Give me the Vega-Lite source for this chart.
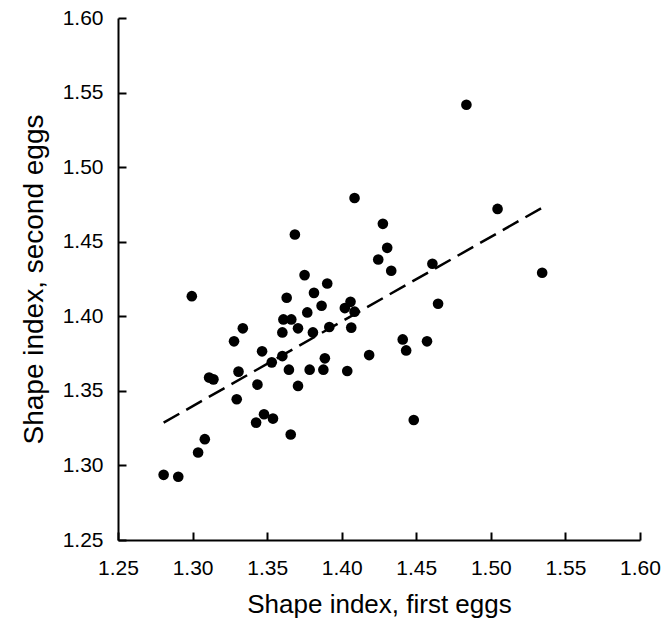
{
  "$schema": "https://vega.github.io/schema/vega-lite/v6.json",
  "autosize": "none",
  "width": 522,
  "height": 522,
  "padding": {"left": 118, "top": 18, "right": 28, "bottom": 88},
  "background": "white",
  "config": {
    "view": {"stroke": null},
    "font": "Liberation Sans",
    "axis": {
      "grid": false,
      "domainColor": "black",
      "domainWidth": 2,
      "tickColor": "black",
      "tickWidth": 2,
      "tickSize": -8,
      "labelColor": "black",
      "labelFont": "Liberation Sans",
      "labelFontSize": 21,
      "labelFlush": false,
      "labelOverlap": false,
      "titleFont": "Liberation Sans",
      "titleFontWeight": "normal",
      "titleColor": "black"
    }
  },
  "layer": [
    {
      "data": {
        "values": [
          {"first": 1.2806, "second": 1.2937},
          {"first": 1.2904, "second": 1.2924},
          {"first": 1.2995, "second": 1.4135},
          {"first": 1.3037, "second": 1.3087},
          {"first": 1.3082, "second": 1.3176},
          {"first": 1.3111, "second": 1.3589},
          {"first": 1.3140, "second": 1.3577},
          {"first": 1.3278, "second": 1.3832},
          {"first": 1.3296, "second": 1.3444},
          {"first": 1.3308, "second": 1.3629},
          {"first": 1.3337, "second": 1.3919},
          {"first": 1.3426, "second": 1.3287},
          {"first": 1.3435, "second": 1.3542},
          {"first": 1.3466, "second": 1.3765},
          {"first": 1.3479, "second": 1.3343},
          {"first": 1.3539, "second": 1.3314},
          {"first": 1.3531, "second": 1.3691},
          {"first": 1.3602, "second": 1.3733},
          {"first": 1.3602, "second": 1.3892},
          {"first": 1.3609, "second": 1.3979},
          {"first": 1.3631, "second": 1.4124},
          {"first": 1.3646, "second": 1.3642},
          {"first": 1.3662, "second": 1.3979},
          {"first": 1.3658, "second": 1.3207},
          {"first": 1.3686, "second": 1.4548},
          {"first": 1.3707, "second": 1.3919},
          {"first": 1.3707, "second": 1.3533},
          {"first": 1.3751, "second": 1.4276},
          {"first": 1.3769, "second": 1.4026},
          {"first": 1.3785, "second": 1.3642},
          {"first": 1.3807, "second": 1.3892},
          {"first": 1.3814, "second": 1.4157},
          {"first": 1.3865, "second": 1.4071},
          {"first": 1.3877, "second": 1.3642},
          {"first": 1.3887, "second": 1.3718},
          {"first": 1.3903, "second": 1.4220},
          {"first": 1.3917, "second": 1.3928},
          {"first": 1.4021, "second": 1.4055},
          {"first": 1.4037, "second": 1.3633},
          {"first": 1.4059, "second": 1.4097},
          {"first": 1.4064, "second": 1.3924},
          {"first": 1.4086, "second": 1.4031},
          {"first": 1.4086, "second": 1.4793},
          {"first": 1.4184, "second": 1.3740},
          {"first": 1.4245, "second": 1.4381},
          {"first": 1.4276, "second": 1.4620},
          {"first": 1.4305, "second": 1.4459},
          {"first": 1.4332, "second": 1.4305},
          {"first": 1.4409, "second": 1.3845},
          {"first": 1.4432, "second": 1.3771},
          {"first": 1.4483, "second": 1.3305},
          {"first": 1.4572, "second": 1.3832},
          {"first": 1.4608, "second": 1.4352},
          {"first": 1.4646, "second": 1.4084},
          {"first": 1.4836, "second": 1.5418},
          {"first": 1.5045, "second": 1.4720},
          {"first": 1.5344, "second": 1.4292}
        ]
      },
      "mark": {"type": "circle", "size": 113, "color": "black", "opacity": 1},
      "encoding": {
        "x": {
          "field": "first",
          "type": "quantitative",
          "scale": {"domain": [1.25, 1.6], "nice": false, "zero": false},
          "axis": {
            "title": "Shape index, first eggs",
            "titleFontSize": 26,
            "values": [1.25, 1.3, 1.35, 1.4, 1.45, 1.5, 1.55, 1.6],
            "format": ".2f",
            "labelPadding": 25,
            "titlePadding": 13
          }
        },
        "y": {
          "field": "second",
          "type": "quantitative",
          "scale": {"domain": [1.25, 1.6], "nice": false, "zero": false},
          "axis": {
            "title": "Shape index, second eggs",
            "titleFontSize": 28,
            "values": [1.25, 1.3, 1.35, 1.4, 1.45, 1.5, 1.55, 1.6],
            "format": ".2f",
            "labelPadding": 23,
            "titlePadding": 14
          }
        }
      }
    },
    {
      "data": {
        "values": [
          {"first": 1.2806, "second": 1.3287},
          {"first": 1.5348, "second": 1.4730}
        ]
      },
      "mark": {"type": "line", "color": "black", "strokeDash": [18, 8], "strokeWidth": 2.5},
      "encoding": {
        "x": {"field": "first", "type": "quantitative"},
        "y": {"field": "second", "type": "quantitative"}
      }
    }
  ]
}
